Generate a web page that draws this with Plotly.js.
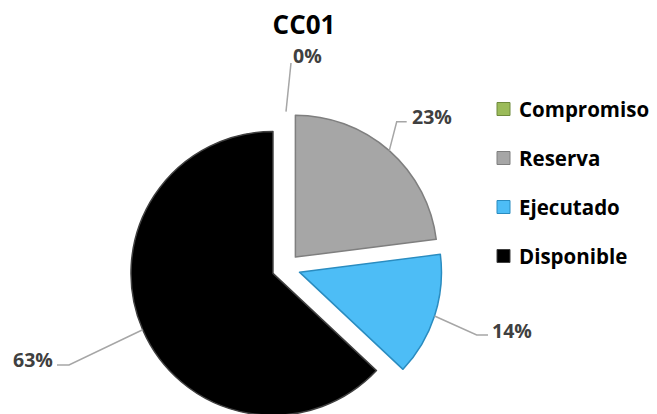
<!DOCTYPE html>
<html><head><meta charset="utf-8">
<script src="https://cdn.plot.ly/plotly-3.0.1.min.js"></script>
<style>html,body{margin:0;padding:0;overflow:hidden;background:#fff}</style>
</head><body><div id="chart" style="width:657px;height:424px"></div>
<script>
const categories = ['Compromiso', 'Reserva', 'Ejecutado', 'Disponible'];
const values = [0, 23, 14, 63];
const percentLabels = ['0%', '23%', '14%', '63%'];
const chartTitle = 'CC01';

const colors = ['#9bbb59', '#a6a6a6', '#4dbdf6', '#000000'];
const edgeColors = ['#6f8a3c', '#7f7f7f', '#2a8cc0', '#404040'];
const pullAmount = 0.1;

const W = 657, H = 424;
const domX = [0.1976, 0.673], domY = [0, 0.737];
// leader-line elbows / ends and label centres in pixels (layout only)
const leaderLayout = [
  {elbow: null, end: [291, 63], text: [307, 55]},
  {elbow: [396.7, 121.7], end: [406.7, 121.7], text: [432, 117]},
  {elbow: [476.7, 335], end: [488, 335], text: [512, 330]},
  {elbow: [69, 365], end: [57, 365], text: [33, 359]}
];
const legendRows = [109, 158, 207, 256];
const legendBoxX = 497, legendBoxSize = 13, legendTextX = 517;

const fx = px => px / W;
const fy = py => 1 - py / H;

// geometry as Plotly computes it
const boxW = W * (domX[1] - domX[0]), boxH = H * (domY[1] - domY[0]);
const r = Math.min(boxW, boxH) / 2 / (1 + pullAmount);
const cx = W * (domX[0] + domX[1]) / 2;
const cy = H * (1 - domY[0]) - boxH / 2;
const total = values.reduce((a, b) => a + b, 0);

const shapes = [], annotations = [];
let cum = 0;
values.forEach((v, i) => {
  const mid = 2 * Math.PI * (cum + v / 2) / total;
  cum += v;
  const R = r * (1 + pullAmount);
  const sx = cx + R * Math.sin(mid), sy = cy - R * Math.cos(mid);
  const L = leaderLayout[i];
  let path = `M ${fx(sx)},${fy(sy)}`;
  if (L.elbow) path += ` L ${fx(L.elbow[0])},${fy(L.elbow[1])}`;
  path += ` L ${fx(L.end[0])},${fy(L.end[1])}`;
  shapes.push({type: 'path', xref: 'paper', yref: 'paper', path: path,
    line: {color: '#a6a6a6', width: 1.5}});
  annotations.push({xref: 'paper', yref: 'paper', x: fx(L.text[0]), y: fy(L.text[1]),
    xanchor: 'center', yanchor: 'middle', showarrow: false, text: percentLabels[i],
    font: {family: 'Open Sans', size: 19.5, color: '#404040', weight: 'bold'}});
});

// legend drawn beside the pie
categories.forEach((c, i) => {
  const y = legendRows[i];
  shapes.push({type: 'rect', xref: 'paper', yref: 'paper',
    x0: fx(legendBoxX), x1: fx(legendBoxX + legendBoxSize),
    y0: fy(y - legendBoxSize / 2), y1: fy(y + legendBoxSize / 2),
    fillcolor: colors[i], line: {color: edgeColors[i], width: 1}});
  annotations.push({xref: 'paper', yref: 'paper', x: fx(legendTextX), y: fy(y),
    xanchor: 'left', yanchor: 'middle', showarrow: false, text: c,
    font: {family: 'Open Sans', size: 20.5, color: '#000000', weight: 'bold'}});
});

const trace = {
  type: 'pie', labels: categories, values: values, sort: false,
  direction: 'clockwise', rotation: 0,
  pull: values.map(() => pullAmount),
  marker: {colors: colors, line: {color: edgeColors, width: values.map(v => v > 0 ? 1.5 : 0)}},
  textinfo: 'none', hoverinfo: 'label+percent',
  domain: {x: domX, y: domY}, showlegend: false
};

const layout = {
  width: W, height: H, margin: {l: 0, r: 0, t: 0, b: 0},
  paper_bgcolor: '#ffffff', plot_bgcolor: '#ffffff', showlegend: false,
  title: {text: chartTitle, x: 304 / W, xanchor: 'center', y: 1 - 25 / H, yanchor: 'middle',
    font: {family: 'Open Sans', size: 26, color: '#000000', weight: 'bold'}},
  shapes: shapes, annotations: annotations
};

Plotly.newPlot('chart', [trace], layout, {displayModeBar: false, staticPlot: true});
</script></body></html>
